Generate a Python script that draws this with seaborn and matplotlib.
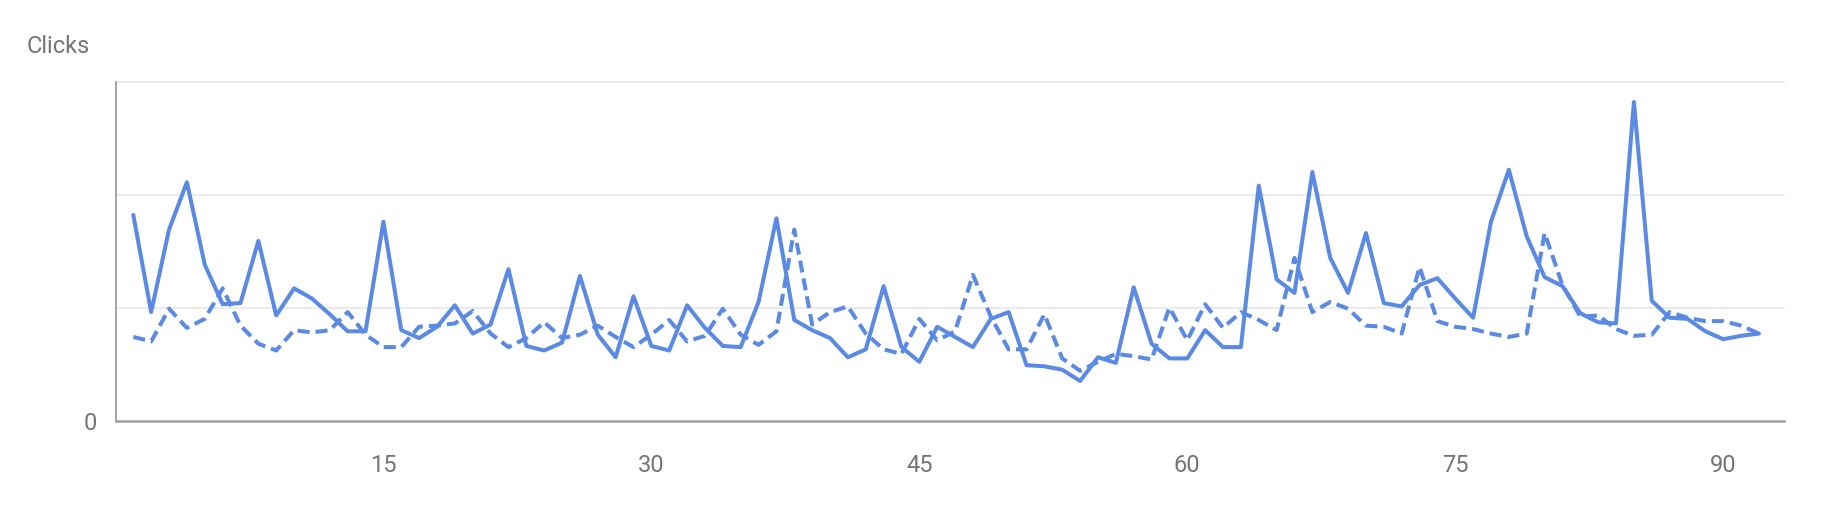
import numpy as np
import pandas as pd
import matplotlib
matplotlib.use("Agg")
import matplotlib.pyplot as plt
import seaborn as sns

days = list(range(1, 93))
clicks_current = [182, 96, 169, 211, 138, 103, 104, 159, 93, 117, 108, 94, 79, 79, 176, 80,
                  73, 83, 102, 77, 85, 134, 66, 62, 69, 128, 76, 56, 110, 66, 62, 102,
                  82, 66, 65, 105, 179, 89, 80, 73, 56, 63, 119, 65, 52, 83, 74, 65,
                  90, 96, 49, 48, 45, 35, 56, 51, 118, 68, 55, 55, 80, 65, 65, 208,
                  125, 113, 220, 144, 113, 166, 104, 101, 120, 126, 108, 91, 176, 222, 163, 127,
                  119, 95, 87, 86, 282, 106, 91, 90, 79, 72, 75, 77]
clicks_previous = [74, 70, 99, 82, 90, 117, 84, 68, 62, 80, 78, 80, 96, 76, 65, 65,
                   83, 84, 86, 97, 77, 65, 73, 87, 73, 76, 84, 74, 65, 76, 89, 70,
                   75, 99, 76, 67, 79, 169, 85, 96, 101, 77, 63, 59, 90, 71, 79, 129,
                   92, 63, 63, 94, 55, 44, 52, 59, 57, 54, 100, 71, 103, 82, 96, 89,
                   80, 144, 96, 105, 99, 84, 83, 77, 136, 88, 83, 81, 77, 74, 77, 166,
                   120, 92, 93, 81, 75, 76, 96, 91, 88, 88, 84, 77]
x_ticks = [15, 30, 45, 60, 75, 90]
y_ticks = [0, 100, 200, 300]
y_tick_labels = ["0", "", "", ""]

sns.set_theme(style="white")
plt.rcParams["font.family"] = ["Roboto", "DejaVu Sans"]

LINE = "#5a8ae4"
TEXT = "#757575"
GRID = "#ebebeb"
AXIS = "#9e9e9e"

fig = plt.figure(figsize=(18.38, 5.08), dpi=100)
ax = fig.add_axes([0.0631, 0.1722, 0.9075, 0.667])

df = pd.DataFrame({"day": days, "current": clicks_current, "previous": clicks_previous})
sns.lineplot(data=df, x="day", y="previous", ax=ax, color=LINE, linewidth=2.9,
             linestyle=(0, (3.0, 1.5)), zorder=3)
sns.lineplot(data=df, x="day", y="current", ax=ax, color=LINE, linewidth=2.9, zorder=4)

ax.set_xlim(0.03, 93.4)
ax.set_ylim(0, 300)
ax.set_xticks(x_ticks)
ax.set_xticklabels([str(t) for t in x_ticks])
ax.set_yticks(y_ticks)
ax.set_yticklabels(y_tick_labels)
ax.set_xlabel("")
ax.set_ylabel("")

for y in y_ticks[1:]:
    ax.axhline(y, color=GRID, linewidth=1.5, zorder=1, clip_on=False)

for s in ["top", "right"]:
    ax.spines[s].set_visible(False)
ax.spines["left"].set_color(AXIS)
ax.spines["bottom"].set_color(AXIS)
ax.spines["left"].set_linewidth(1.3)
ax.spines["bottom"].set_linewidth(1.8)

ax.tick_params(axis="x", length=0, pad=24, labelsize=17, labelcolor=TEXT)
ax.tick_params(axis="y", length=5, width=1.5, color=GRID, pad=9, labelsize=17, labelcolor=TEXT)

fig.text(26.5 / 1838, 1 - 46.7 / 508, "Clicks", fontsize=17, color=TEXT, ha="left", va="center")

fig.savefig("out.png", dpi=100, facecolor="white")
